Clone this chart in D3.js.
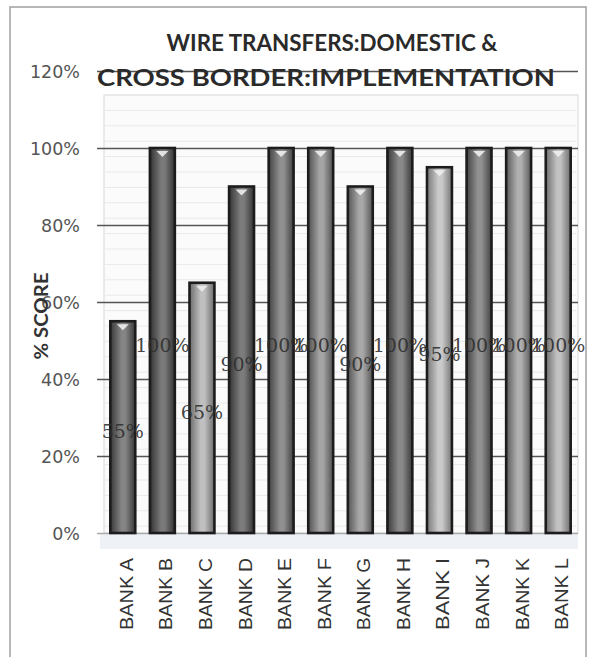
<!DOCTYPE html>
<html>
<head>
<meta charset="utf-8">
<script src="https://cdn.jsdelivr.net/npm/d3@7/dist/d3.min.js"></script>
<style>
  html, body { margin: 0; padding: 0; background: #fff; }
  svg { display: block; }
</style>
</head>
<body>
<svg id="chart" width="590" height="657"></svg>
<script>
// ---- data ----
const banks = ["BANK A", "BANK B", "BANK C", "BANK D", "BANK E", "BANK F",
               "BANK G", "BANK H", "BANK I", "BANK J", "BANK K", "BANK L"];
const scores = [55, 100, 65, 90, 100, 100, 90, 100, 95, 100, 100, 100];
const tickValues = [0, 20, 40, 60, 80, 100, 120];
const tickLabels = ["0%", "20%", "40%", "60%", "80%", "100%", "120%"];
const titleLines = ["WIRE TRANSFERS:DOMESTIC &", "CROSS BORDER:IMPLEMENTATION"];
const yTitle = "% SCORE";

// ---- styling: grey tone of each cylinder (centre, edge) ----
const shades = [
  ["#858585", "#383838"], ["#7a7a7a", "#323232"], ["#c0c0c0", "#6c6c6c"],
  ["#7c7c7c", "#343434"], ["#909090", "#424242"], ["#a4a4a4", "#525252"],
  ["#a8a8a8", "#555"], ["#8a8a8a", "#3a3a3a"], ["#cacaca", "#787878"],
  ["#919191", "#434343"], ["#b0b0b0", "#5a5a5a"], ["#c2c2c2", "#6e6e6e"]
];

const svg = d3.select("#chart");
const plot = { left: 103, right: 578, top: 71, bottom: 533 };

const x = d3.scaleBand().domain(banks).range([plot.left, plot.right]).paddingInner(0.37).paddingOuter(0.185);
const y = d3.scaleLinear().domain([0, 120]).range([plot.bottom, plot.top]);

// outer frame
svg.append("rect").attr("x", 10).attr("y", 7).attr("width", 576).attr("height", 660)
  .attr("fill", "none").attr("stroke", "#a0a0a0").attr("stroke-width", 1.5);

// back wall & floor
svg.append("rect").attr("x", plot.left + 1).attr("y", 95).attr("width", plot.right - plot.left - 1)
  .attr("height", plot.bottom - 95).attr("fill", "#fbfbfb").attr("stroke", "#d8d8d8");
svg.append("rect").attr("x", plot.left - 3).attr("y", plot.bottom).attr("width", plot.right - plot.left + 3)
  .attr("height", 16).attr("fill", "#eef2f7");

// faint wall texture lines
const wallLines = d3.range(95, plot.bottom, 15.4);
svg.append("g").selectAll("line").data(wallLines).join("line")
  .attr("x1", plot.left + 2).attr("x2", plot.right - 2)
  .attr("y1", d => d).attr("y2", d => d)
  .attr("stroke", "#e9e9e9").attr("stroke-width", 1);

// gridlines + y axis labels
const yAxis = d3.axisLeft(y).tickValues(tickValues)
  .tickFormat((d, i) => tickLabels[i])
  .tickSize(-(plot.right - plot.left + 6)).tickPadding(17);
const gy = svg.append("g").attr("transform", `translate(${plot.left - 6},0)`).call(yAxis);
gy.select(".domain").remove();
gy.selectAll(".tick line").attr("stroke", d => d === 0 ? "#aaa" : "#555").attr("stroke-width", 1.4);
gy.selectAll(".tick text").attr("font-family", "DejaVu Sans").attr("font-size", 17.5)
  .attr("fill", "#555").attr("x", 80 - (plot.left - 6)).attr("dy", "0.36em");

// gradients for cylinder shading
const defs = svg.append("defs");
shades.forEach((s, i) => {
  const g = defs.append("linearGradient").attr("id", "cyl" + i)
    .attr("x1", "0%").attr("x2", "100%").attr("y1", "0%").attr("y2", "0%");
  g.append("stop").attr("offset", "0%").attr("stop-color", s[1]);
  g.append("stop").attr("offset", "45%").attr("stop-color", s[0]);
  g.append("stop").attr("offset", "60%").attr("stop-color", s[0]);
  g.append("stop").attr("offset", "100%").attr("stop-color", s[1]);
});

// bars
const bars = svg.append("g").selectAll("g").data(banks).join("g");
bars.append("rect")
  .attr("x", d => x(d)).attr("width", x.bandwidth())
  .attr("y", (d, i) => y(scores[i])).attr("height", (d, i) => y(0) - y(scores[i]))
  .attr("fill", (d, i) => `url(#cyl${i})`)
  .attr("stroke", "#1c1c1c").attr("stroke-width", 2.6);
// light highlight on each cylinder top
bars.append("path")
  .attr("d", (d, i) => {
    const cx = x(d) + x.bandwidth() / 2, ty = y(scores[i]) + 3;
    return `M${cx - 6},${ty} L${cx + 6},${ty} L${cx},${ty + 6} Z`;
  })
  .attr("fill", "#eeeeee").attr("opacity", 0.9);

// value labels, drawn at the middle of each bar
svg.append("g").selectAll("text").data(banks).join("text")
  .attr("x", d => x(d) + x.bandwidth() / 2)
  .attr("y", (d, i) => y(scores[i] / 2) + 11)
  .attr("text-anchor", "middle")
  .attr("font-family", "DejaVu Serif").attr("font-size", 19)
  .attr("fill", "#2e2e2e").attr("fill-opacity", 0.9)
  .text((d, i) => scores[i] + "%");

// category labels (rotated)
svg.append("g").selectAll("text").data(banks).join("text")
  .attr("transform", d => `translate(${x(d) + x.bandwidth() / 2 + 10},558) rotate(-90)`)
  .attr("text-anchor", "end")
  .attr("font-family", "Liberation Sans").attr("font-size", 18.5)
  .attr("fill", "#333")
  .attr("textLength", 72).attr("lengthAdjust", "spacingAndGlyphs")
  .text(d => d);

// y axis title
svg.append("text")
  .attr("transform", "translate(48,316) rotate(-90)")
  .attr("text-anchor", "middle")
  .attr("font-family", "Lato").attr("font-weight", "bold").attr("font-size", 19)
  .attr("fill", "#333")
  .attr("textLength", 87).attr("lengthAdjust", "spacingAndGlyphs")
  .text(yTitle);

// chart title (two lines)
const titleSpecs = [{ cx: 332, by: 51, w: 331 }, { cx: 326, by: 86, w: 458 }];
svg.append("g").selectAll("text").data(titleLines).join("text")
  .attr("x", (d, i) => titleSpecs[i].cx - titleSpecs[i].w / 2)
  .attr("y", (d, i) => titleSpecs[i].by)
  .attr("font-family", "Lato").attr("font-weight", "bold").attr("font-size", 22)
  .attr("fill", "#2a2a2a")
  .attr("textLength", (d, i) => titleSpecs[i].w).attr("lengthAdjust", "spacingAndGlyphs")
  .text(d => d);
</script>
</body>
</html>
